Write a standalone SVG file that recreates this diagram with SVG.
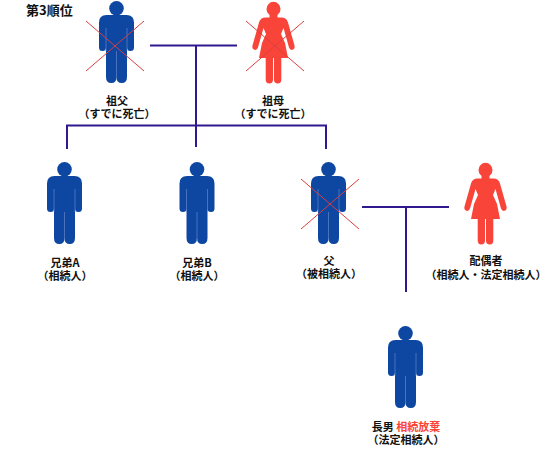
<svg xmlns="http://www.w3.org/2000/svg" width="556" height="464" viewBox="0 0 556 464">
<style>
text{font-family:"Noto Sans CJK JP","Liberation Sans",sans-serif;font-size:11px;font-weight:700;fill:#111;text-anchor:middle}
.t{font-size:13px;text-anchor:start}
.r{fill:#f9443a}
.c{stroke:#32188f;stroke-width:2;fill:none}
.x{stroke:#d8403f;stroke-width:1;fill:none}
.g{stroke:#6f8fcc;stroke-width:.6;fill:none}
</style>
<defs>
<g id="man">
<circle cx="0" cy="7.300" r="7.300" fill="#0d47a1"/>
<path fill="#0d47a1" d="M-10 14H10Q17.500 14 17.500 21.500V46.500Q17.500 50 14 50Q10.500 50 10.500 46.500V76Q10.500 82 5.200 82Q0 82 0 76Q0 82 -5.200 82Q-10.500 82 -10.500 76V46.500Q-10.500 50 -14 50Q-17.500 50 -17.500 46.500V21.500Q-17.500 14 -10 14Z"/>
<path class="g" d="M-10.500 27V50M10.500 27V50M0 50V78"/>
</g>
<g id="woman">
<ellipse cx="0" cy="7" rx="7" ry="7.200" fill="#f9443a"/>
<path fill="#f9443a" d="M-4 12H4V15.500H8Q13 15.500 14.500 20.500L21 43.500Q21.800 47 19 47.800Q16.500 48.300 15.500 45.500L10 26L7.500 32L11.500 41L14.500 56H7.800V77.500Q7.800 81.500 4.200 81.500Q.5 81.500 .5 77.500V56H-.5V77.500Q-.5 81.500 -4.200 81.500Q-7.800 81.500 -7.800 77.500V56H-14.500L-11.500 41L-7.500 32L-10 26L-15.500 45.500Q-16.500 48.300 -19 47.800Q-21.800 47 -21 43.500L-14.500 20.500Q-13 15.500 -8 15.500H-4Z"/>
</g>
<g id="cross"><path class="x" d="M-29 -25L29 25M-29 25L29 -25"/></g>
</defs>
<g id="connectors">
<path class="c" d="M150 45.500H237M196 45.500V147"/>
<path class="c" d="M67 149V125.500H326V149"/>
<path class="c" d="M362 207H449M406 207V292"/>
</g>
<text class="t" x="26" y="15">第3順位</text>
<g id="grandfather"><use href="#man" x="116.500" y="1"/><use href="#cross" x="115" y="46"/><text x="117" y="105">祖父<tspan x="117" dy="13">（すでに死亡）</tspan></text></g>
<g id="grandmother"><use href="#woman" x="273.500" y="2"/><use href="#cross" x="275" y="46"/><text x="273" y="105">祖母<tspan x="273" dy="13">（すでに死亡）</tspan></text></g>
<g id="brotherA"><use href="#man" x="64.500" y="162"/><text x="65" y="267">兄弟A<tspan x="65" dy="13">（相続人）</tspan></text></g>
<g id="brotherB"><use href="#man" x="197" y="162"/><text x="197" y="267">兄弟B<tspan x="197" dy="13">（相続人）</tspan></text></g>
<g id="father"><use href="#man" x="328.500" y="162"/><use href="#cross" x="330" y="204"/><text x="329" y="265">父<tspan x="329" dy="13">（被相続人）</tspan></text></g>
<g id="spouse"><use href="#woman" x="485.500" y="163"/><text x="486" y="265">配偶者<tspan x="486" dy="14">（相続人・法定相続人）</tspan></text></g>
<g id="son"><use href="#man" x="405.500" y="326"/><text x="406" y="431">長男 <tspan class="r">相続放棄</tspan><tspan x="406" dy="13">（法定相続人）</tspan></text></g>
</svg>
